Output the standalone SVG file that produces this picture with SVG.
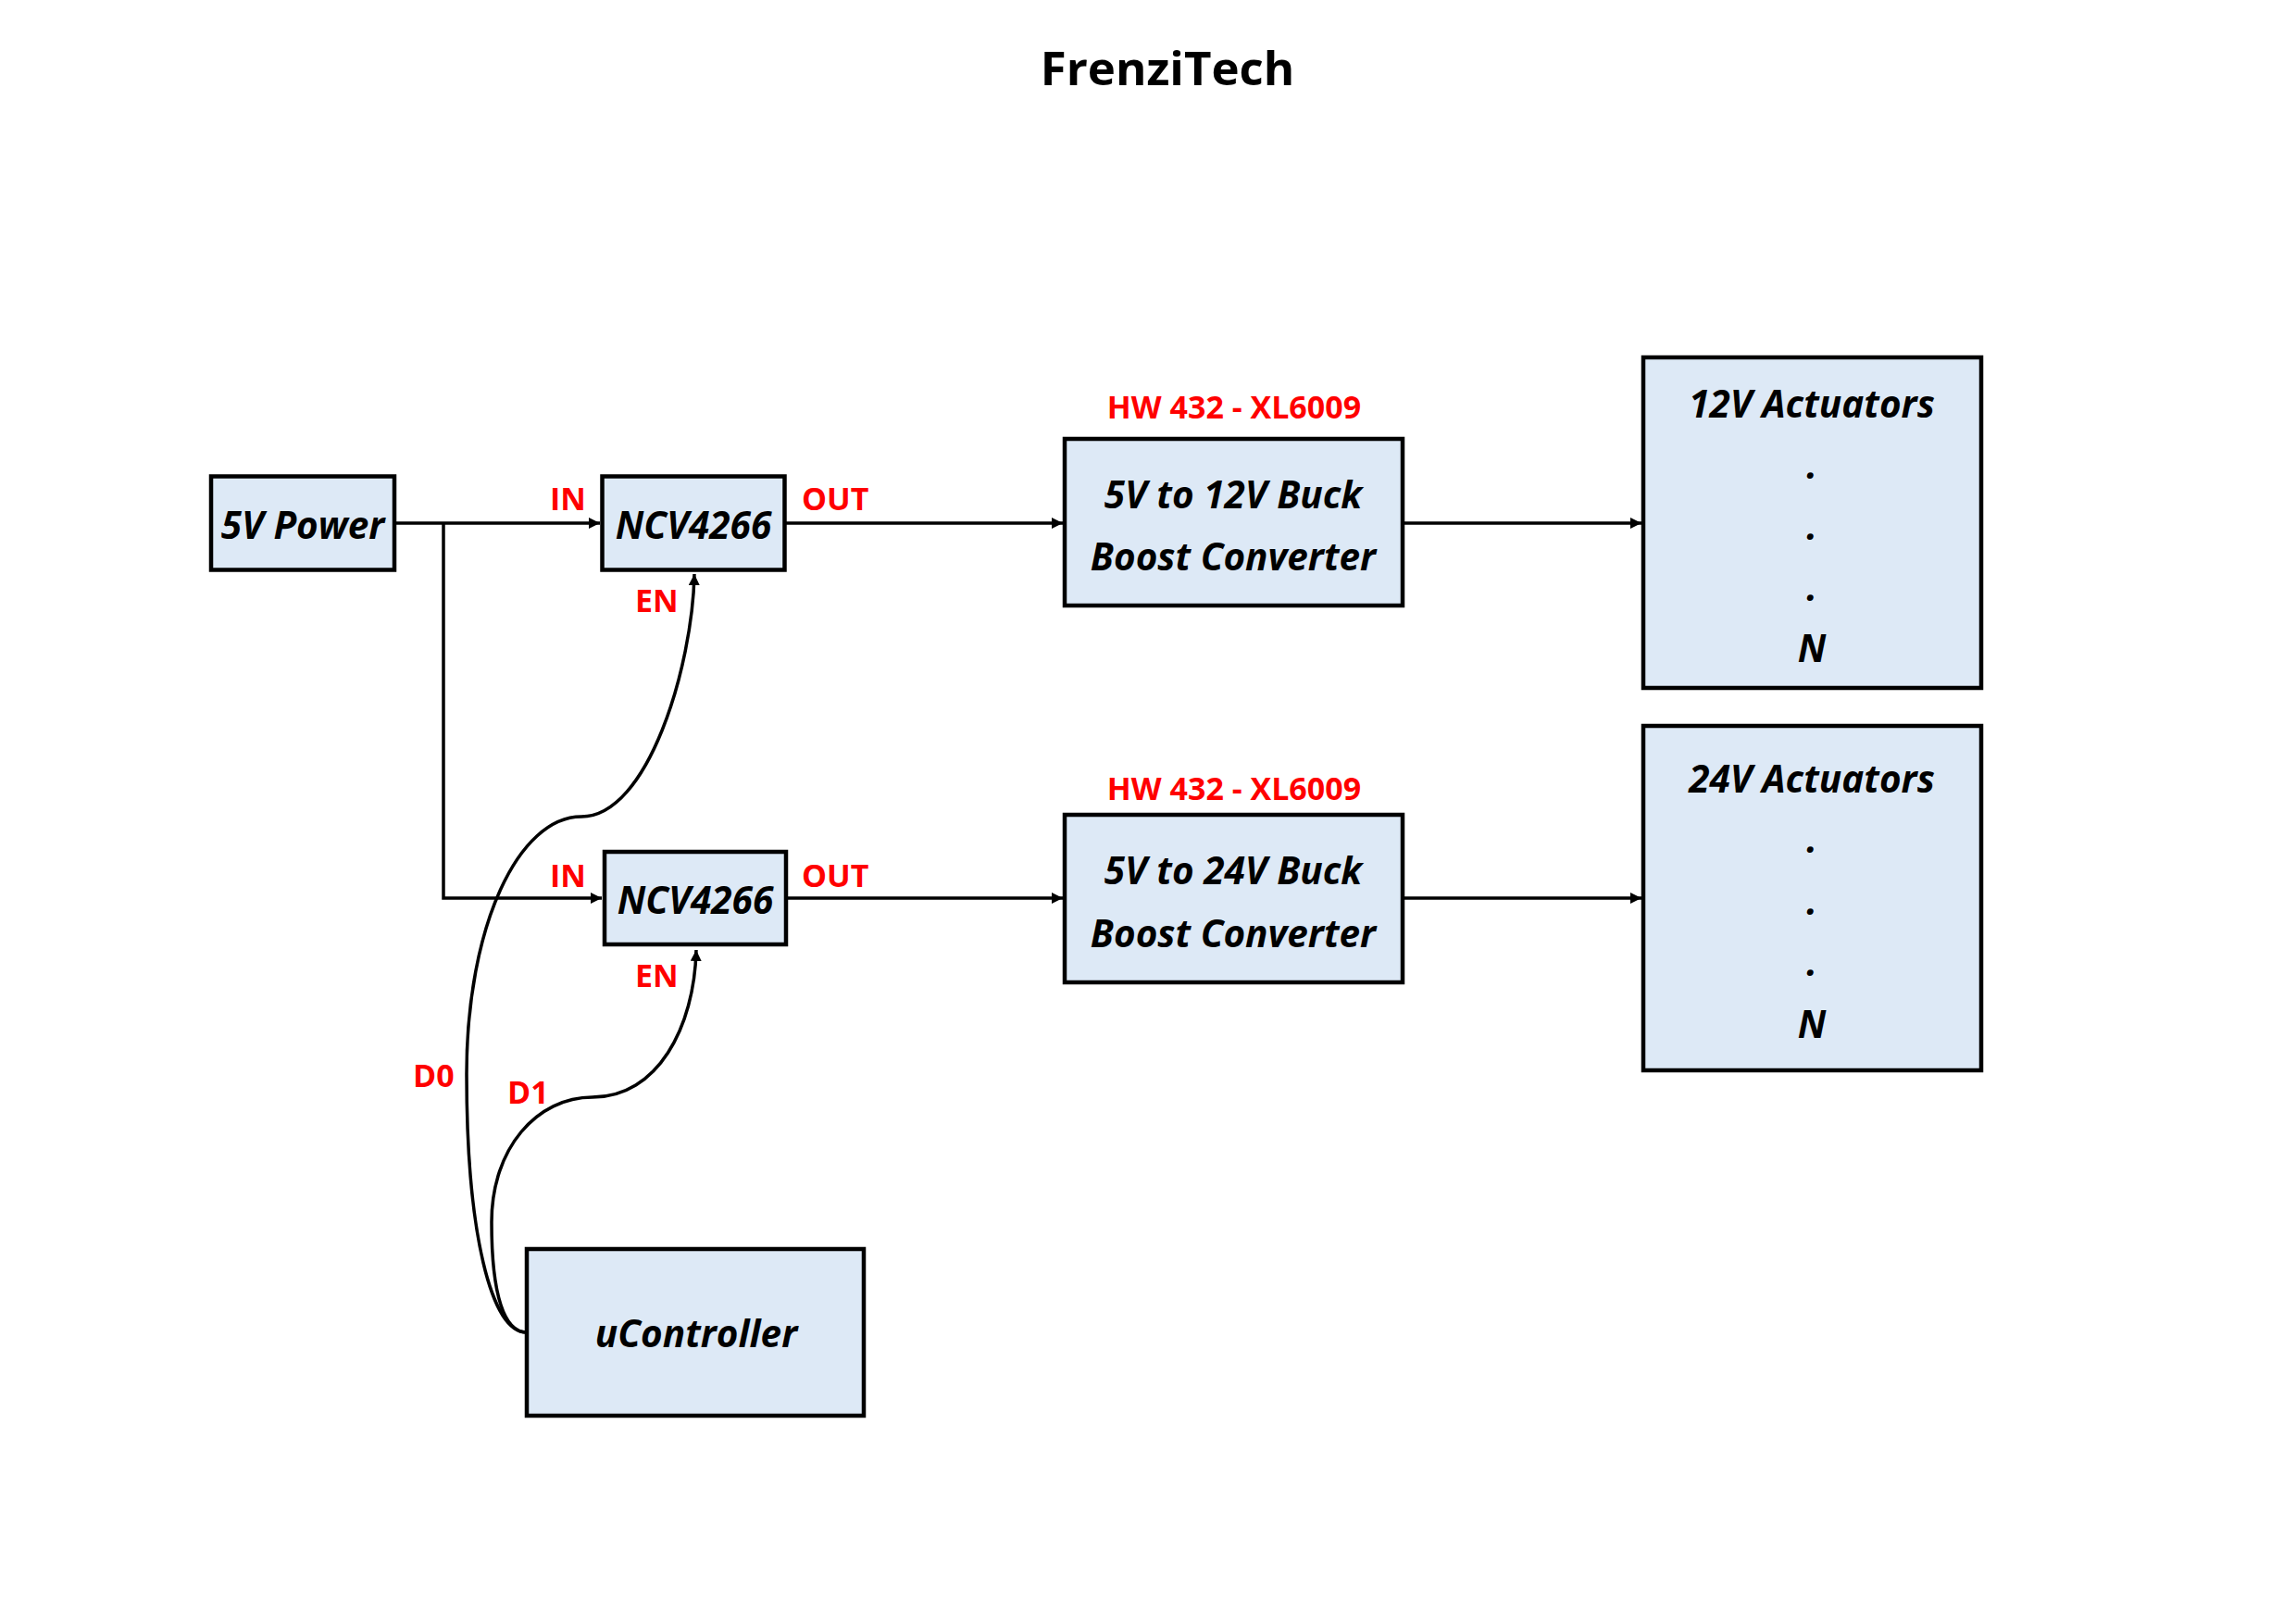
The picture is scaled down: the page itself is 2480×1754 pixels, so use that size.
<svg xmlns="http://www.w3.org/2000/svg" width="2480" height="1754" viewBox="0 0 2480 1754">
<style>
.box{fill:#dde9f6;stroke:#000;stroke-width:4.5}
.lbl{font-family:"Open Sans","Liberation Sans",sans-serif;font-weight:700;font-style:italic;font-size:40.5px;fill:#000;text-anchor:middle}
.red{font-family:"Open Sans","Liberation Sans",sans-serif;font-weight:700;font-size:34px;fill:#ff0000}
.redc{text-anchor:middle}
.wire{fill:none;stroke:#000;stroke-width:3.5}
.title{font-family:"Open Sans","Liberation Sans",sans-serif;font-weight:700;font-size:51px;fill:#000;text-anchor:middle}
</style>
<defs>
<marker id="arr" markerUnits="userSpaceOnUse" markerWidth="13" markerHeight="12" refX="12" refY="6" orient="auto">
<path d="M0,0 L12,6 L0,12 z" fill="#000"/>
</marker>
</defs>
<rect width="2480" height="1754" fill="#fff"/>
<text class="title" x="1261" y="92">FrenziTech</text>

<g id="connectors">
<path class="wire" d="M427 565 H648" marker-end="url(#arr)"/>
<path class="wire" d="M479 565 V970 H650" marker-end="url(#arr)"/>
<path class="wire" d="M849 565 H1148" marker-end="url(#arr)"/>
<path class="wire" d="M851 970 H1148" marker-end="url(#arr)"/>
<path class="wire" d="M1517 565 H1773" marker-end="url(#arr)"/>
<path class="wire" d="M1517 970 H1773" marker-end="url(#arr)"/>
<path class="wire" d="M569 1439 C530 1439 504 1330 504 1160 C504 1000 560 882 628 882 C700 882 748 720 750 620" marker-end="url(#arr)"/>
<path class="wire" d="M569 1439 C545 1439 531 1400 531 1320 C531 1240 580 1185 640 1185 C710 1185 750 1110 752 1026" marker-end="url(#arr)"/>
<text class="red" x="594" y="551">IN</text>
<text class="red" x="866" y="551">OUT</text>
<text class="red" x="686" y="661">EN</text>
<text class="red" x="594" y="958">IN</text>
<text class="red" x="866" y="958">OUT</text>
<text class="red" x="686" y="1066">EN</text>
<text class="red" x="446" y="1174">D0</text>
<text class="red" x="548" y="1192">D1</text>
</g>

<g id="power5v">
<rect class="box" x="228" y="514.5" width="198" height="101"/>
<text class="lbl" x="327" y="582">5V Power</text>
</g>

<g id="ncv1">
<rect class="box" x="650.5" y="514.5" width="197" height="101"/>
<text class="lbl" x="749" y="582">NCV4266</text>
</g>

<g id="ncv2">
<rect class="box" x="653" y="920" width="196" height="100"/>
<text class="lbl" x="751" y="987">NCV4266</text>
</g>

<g id="buck12">
<text class="red redc" x="1333" y="452">HW 432 - XL6009</text>
<rect class="box" x="1150" y="474" width="365" height="180"/>
<text class="lbl" x="1332" y="549">5V to 12V Buck</text>
<text class="lbl" x="1332" y="616">Boost Converter</text>
</g>

<g id="buck24">
<text class="red redc" x="1333" y="864">HW 432 - XL6009</text>
<rect class="box" x="1150" y="880" width="365" height="181"/>
<text class="lbl" x="1332" y="955">5V to 24V Buck</text>
<text class="lbl" x="1332" y="1023">Boost Converter</text>
</g>

<g id="act12">
<rect class="box" x="1775" y="386" width="365" height="357"/>
<text class="lbl" x="1957" y="451">12V Actuators</text>
<text class="lbl" x="1957" y="517">.</text>
<text class="lbl" x="1957" y="583">.</text>
<text class="lbl" x="1957" y="649">.</text>
<text class="lbl" x="1957" y="715">N</text>
</g>

<g id="act24">
<rect class="box" x="1775" y="784" width="365" height="372"/>
<text class="lbl" x="1957" y="856">24V Actuators</text>
<text class="lbl" x="1957" y="921">.</text>
<text class="lbl" x="1957" y="988">.</text>
<text class="lbl" x="1957" y="1054">.</text>
<text class="lbl" x="1957" y="1121">N</text>
</g>

<g id="ucontroller">
<rect class="box" x="569" y="1349" width="364" height="180"/>
<text class="lbl" x="752" y="1455">uController</text>
</g>
</svg>
